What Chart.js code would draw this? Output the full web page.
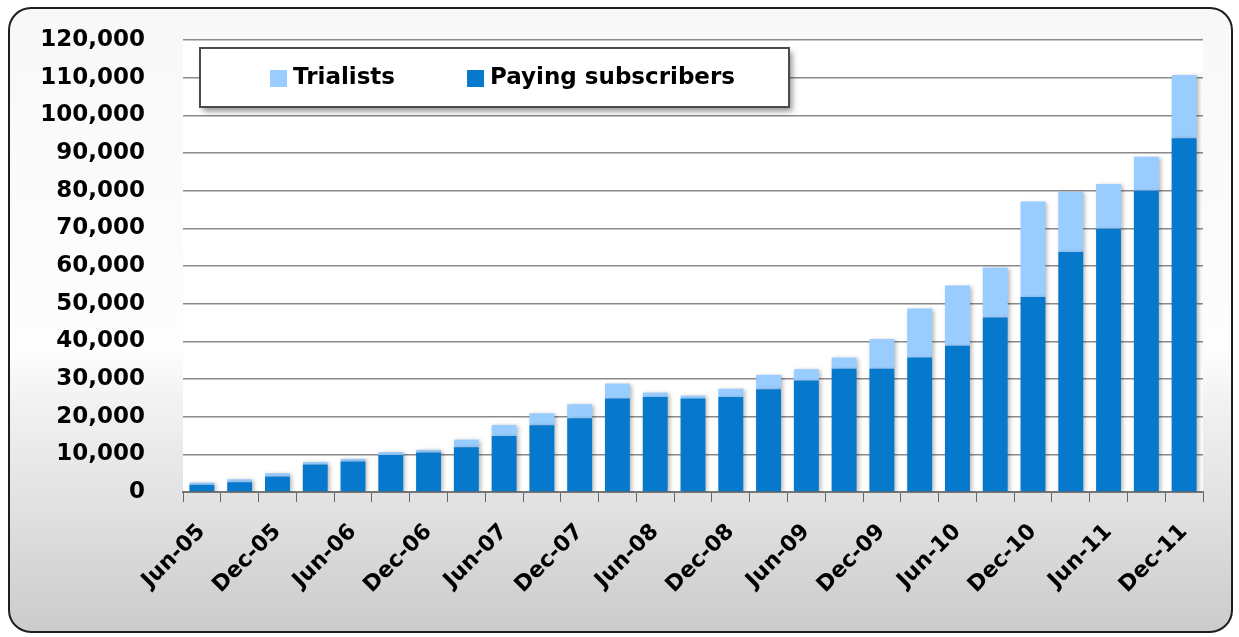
<!DOCTYPE html>
<html>
<head>
<meta charset="utf-8">
<script src="https://cdn.jsdelivr.net/npm/chart.js@4.4.0/dist/chart.umd.min.js"></script>
<style>
  html, body { margin: 0; padding: 0; background: #fff; }
  #wrap { width: 1239px; height: 637px; }
</style>
</head>
<body>
<div id="wrap"><canvas id="subsChart"></canvas></div>
<script>
// quarterly, Jun-05 .. Dec-11
const quarters = ['Jun-05','Sep-05','Dec-05','Mar-06','Jun-06','Sep-06','Dec-06','Mar-07','Jun-07',
  'Sep-07','Dec-07','Mar-08','Jun-08','Sep-08','Dec-08','Mar-09','Jun-09','Sep-09','Dec-09',
  'Mar-10','Jun-10','Sep-10','Dec-10','Mar-11','Jun-11','Sep-11','Dec-11'];

const paying = [1900, 2600, 4100, 7300, 8100, 9800, 10500, 11900, 14900, 17700, 19600, 24800, 25200, 24800,
  25200, 27300, 29600, 32700, 32700, 35700, 38800, 46300, 51800, 63700, 69900, 80000, 93900];

const trialists = [600, 800, 900, 700, 700, 800, 700, 2000, 2900, 3200, 3700, 4000, 1200, 800,
  2200, 3800, 3000, 3000, 7900, 13000, 16000, 13300, 25300, 16000, 11900, 9000, 16800];

const yTicks = [0, 10000, 20000, 30000, 40000, 50000, 60000, 70000, 80000, 90000, 100000, 110000, 120000];

const FONT = "'DejaVu Sans', sans-serif";

// frame + gradient background + white plot area
const backdrop = {
  id: 'backdrop',
  beforeDraw(chart) {
    const ctx = chart.ctx, ca = chart.chartArea;
    ctx.save();
    ctx.fillStyle = '#fff';
    ctx.fillRect(0, 0, chart.width, chart.height);
    const g = ctx.createLinearGradient(0, 8, 0, 632);
    g.addColorStop(0, '#f8f8f8');
    g.addColorStop(0.55, '#fdfdfd');
    g.addColorStop(0.63, '#f2f2f2');
    g.addColorStop(0.8, '#e1e1e1');
    g.addColorStop(1, '#cbcbcb');
    ctx.beginPath();
    ctx.roundRect(9, 8, 1223, 624, 22);
    ctx.fillStyle = g;
    ctx.fill();
    ctx.lineWidth = 2;
    ctx.strokeStyle = '#1e1e1e';
    ctx.stroke();
    ctx.fillStyle = '#fff';
    ctx.fillRect(ca.left, ca.top, ca.right - ca.left, ca.bottom - ca.top);
    ctx.restore();
  }
};

// soft shadow behind the bars
const barShadow = {
  id: 'barShadow',
  beforeDatasetsDraw(chart) {
    const ctx = chart.ctx;
    ctx.save();
    ctx.shadowColor = 'rgba(0,0,0,0.28)';
    ctx.shadowBlur = 4;
    ctx.shadowOffsetX = 2;
    ctx.shadowOffsetY = 1;
  },
  afterDatasetsDraw(chart) {
    chart.ctx.restore();
  }
};

// boxed legend inside the plot, like the Excel original
const boxLegend = {
  id: 'boxLegend',
  afterDraw(chart) {
    const ctx = chart.ctx;
    const bx = 200, by = 48, bw = 589, bh = 59;
    ctx.save();
    ctx.shadowColor = 'rgba(0,0,0,0.45)';
    ctx.shadowBlur = 6;
    ctx.shadowOffsetX = 3;
    ctx.shadowOffsetY = 4;
    ctx.fillStyle = '#fff';
    ctx.fillRect(bx, by, bw, bh);
    ctx.restore();
    ctx.save();
    ctx.lineWidth = 2;
    ctx.strokeStyle = '#4a4a4a';
    ctx.strokeRect(bx, by, bw, bh);

    ctx.font = 'bold 23px ' + FONT;
    ctx.textBaseline = 'middle';
    const items = chart.data.datasets.slice().reverse();
    const box = 17, gap = 6, spacing = 72;
    let x = 270;
    const cy = by + bh / 2 + 1;
    items.forEach(d => {
      ctx.fillStyle = d.backgroundColor;
      ctx.fillRect(x, cy - box / 2, box, box);
      x += box + gap;
      ctx.fillStyle = '#000';
      ctx.fillText(d.label, x, cy);
      x += ctx.measureText(d.label).width + spacing;
    });
    ctx.restore();
  }
};

new Chart(document.getElementById('subsChart'), {
  type: 'bar',
  data: {
    labels: quarters,
    datasets: [
      { label: 'Paying subscribers', data: paying, backgroundColor: '#0779cd',
        categoryPercentage: 1.0, barPercentage: 0.66 },
      { label: 'Trialists', data: trialists, backgroundColor: '#99ccff',
        categoryPercentage: 1.0, barPercentage: 0.66 }
    ]
  },
  options: {
    responsive: true,
    maintainAspectRatio: false,
    animation: false,
    layout: { padding: { left: 0, top: 40, right: 36, bottom: 0 } },
    plugins: {
      legend: { display: false },
      tooltip: { enabled: false }
    },
    scales: {
      x: {
        stacked: true,
        afterFit: s => { s.height = 145; },
        border: { display: true, color: '#777', width: 2 },
        grid: { offset: true, drawOnChartArea: false, drawTicks: true, tickLength: 10, color: '#666', lineWidth: 1 },
        ticks: {
          autoSkip: false,
          minRotation: 45,
          maxRotation: 45,
          padding: 17,
          color: '#000',
          font: { family: FONT, size: 22, weight: 'bold' },
          callback: function(v, i) { return i % 2 === 0 ? this.getLabelForValue(v) : ''; }
        }
      },
      y: {
        stacked: true,
        min: 0,
        max: 120000,
        // fixed axis width; tick padding would otherwise push the plot top down
        afterFit: s => { s.width = 183; s.paddingTop = 0; s.paddingBottom = 0; },
        afterBuildTicks: s => { s.ticks = yTicks.map(v => ({ value: v })); },
        border: { display: false },
        grid: { color: '#8a8a8a', lineWidth: 1.5, drawTicks: false },
        ticks: {
          padding: 38,
          color: '#000',
          font: { family: FONT, size: 23, weight: 'bold' },
          callback: v => v.toLocaleString('en-US')
        }
      }
    }
  },
  plugins: [backdrop, barShadow, boxLegend]
});
</script>
</body>
</html>
